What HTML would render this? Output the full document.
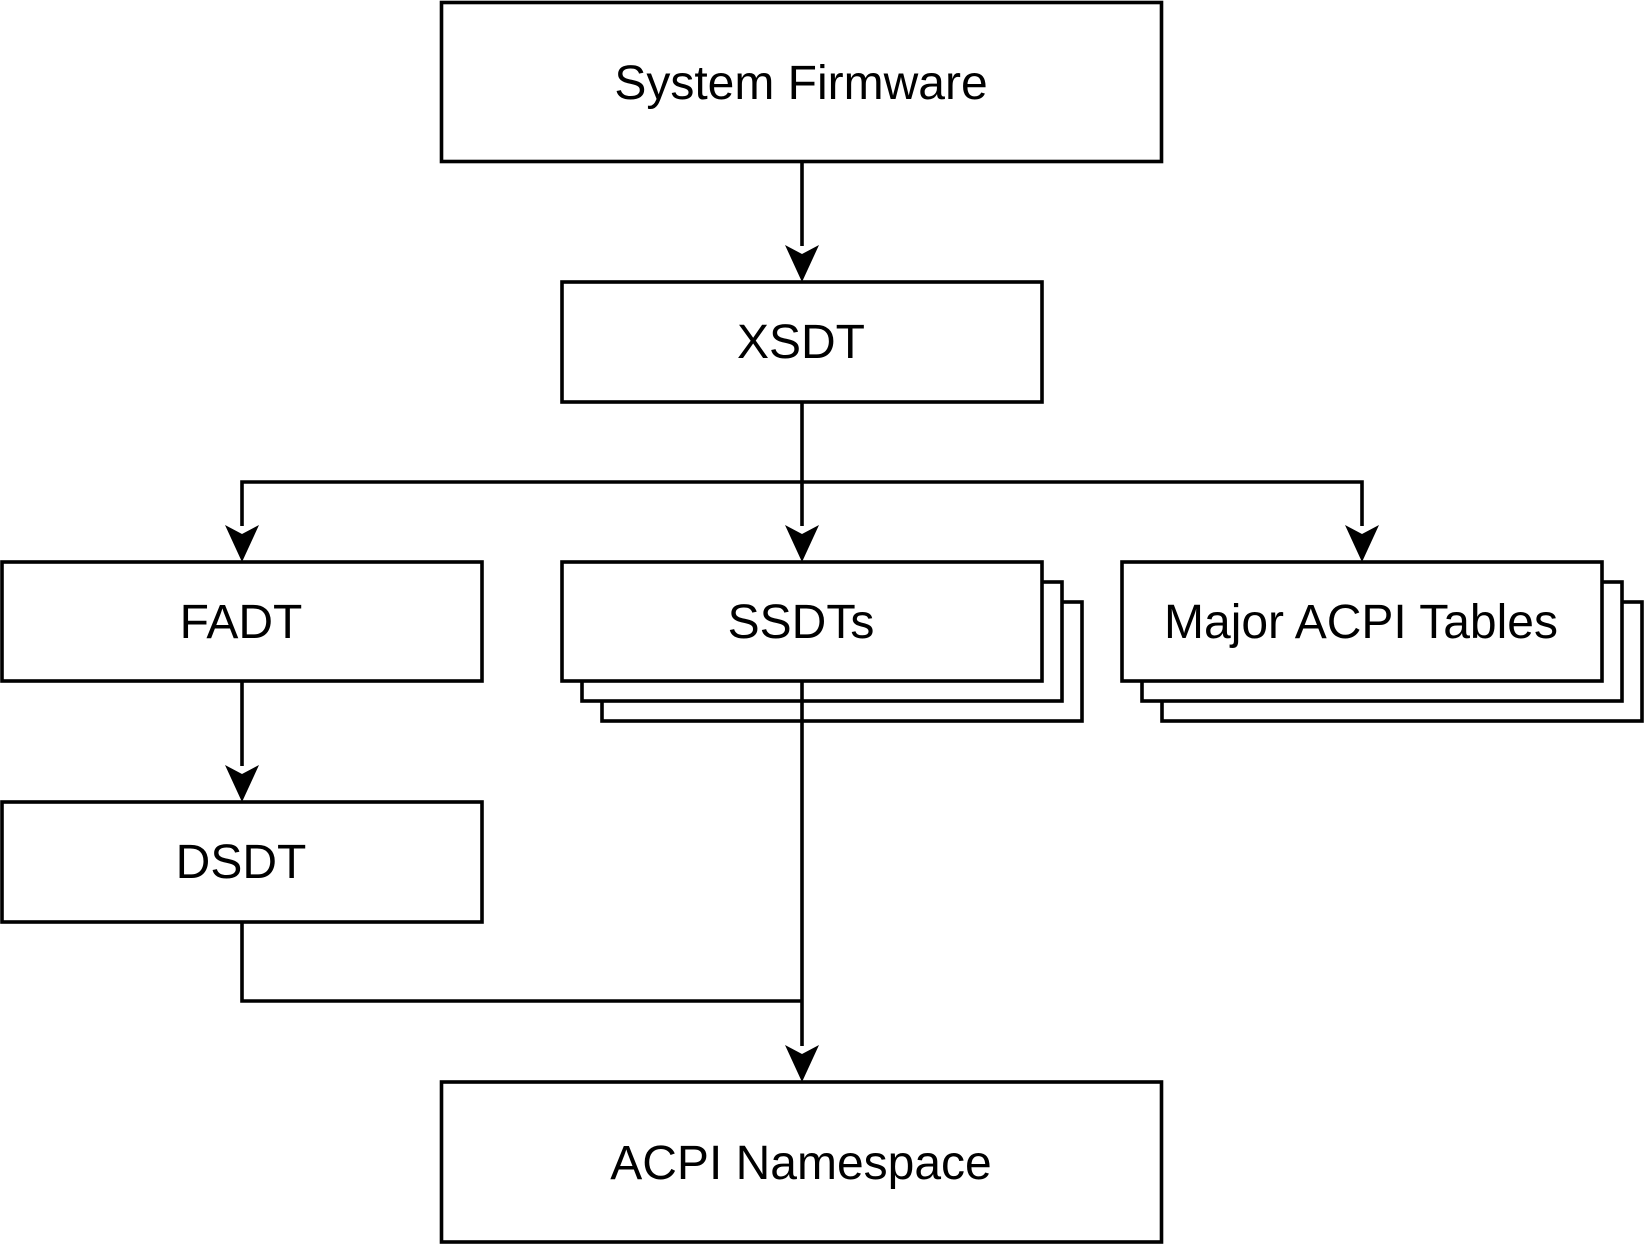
<!DOCTYPE html>
<html><head><meta charset="utf-8"><style>html,body{margin:0;padding:0;background:#fff}svg{display:block}</style></head>
<body>
<svg width="1644" height="1248" viewBox="0 0 1644 1248" xmlns="http://www.w3.org/2000/svg">
<g fill="#fff" stroke="#000" stroke-width="3.6">
<rect x="441.5" y="2.5" width="720" height="159"/>
<rect x="562" y="282" width="480" height="120"/>
<rect x="2" y="562" width="480" height="119"/>
<rect x="2" y="802" width="480" height="120"/>
<rect x="441.5" y="1082" width="720" height="160"/>
<rect x="602" y="602" width="480" height="119"/>
<rect x="582" y="582" width="480" height="119"/>
<rect x="562" y="562" width="480" height="119"/>
<rect x="1162" y="602" width="480" height="119"/>
<rect x="1142" y="582" width="480" height="119"/>
<rect x="1122" y="562" width="480" height="119"/>
</g>
<g fill="none" stroke="#000" stroke-width="3.6">
<path d="M802 161V246"/>
<path d="M802 402V526"/>
<path d="M242 526V482H1362V526"/>
<path d="M242 681V766"/>
<path d="M802 681V1046"/>
<path d="M242 922V1001H802"/>
</g>
<g fill="#000">
<path d="M802 282l-17-37 17 9 17-9z"/>
<path d="M802 562l-17-37 17 9 17-9z"/>
<path d="M242 562l-17-37 17 9 17-9z"/>
<path d="M1362 562l-17-37 17 9 17-9z"/>
<path d="M242 802l-17-37 17 9 17-9z"/>
<path d="M802 1082l-17-37 17 9 17-9z"/>
</g>
<g font-family="Liberation Sans, Arial, sans-serif" font-size="48" text-anchor="middle" fill="#000">
<text x="801" y="99">System Firmware</text>
<text x="801" y="358">XSDT</text>
<text x="241" y="638">FADT</text>
<text x="801" y="638">SSDTs</text>
<text x="1361" y="638">Major ACPI Tables</text>
<text x="241" y="878">DSDT</text>
<text x="801" y="1179">ACPI Namespace</text>
</g>
</svg>
</body></html>
